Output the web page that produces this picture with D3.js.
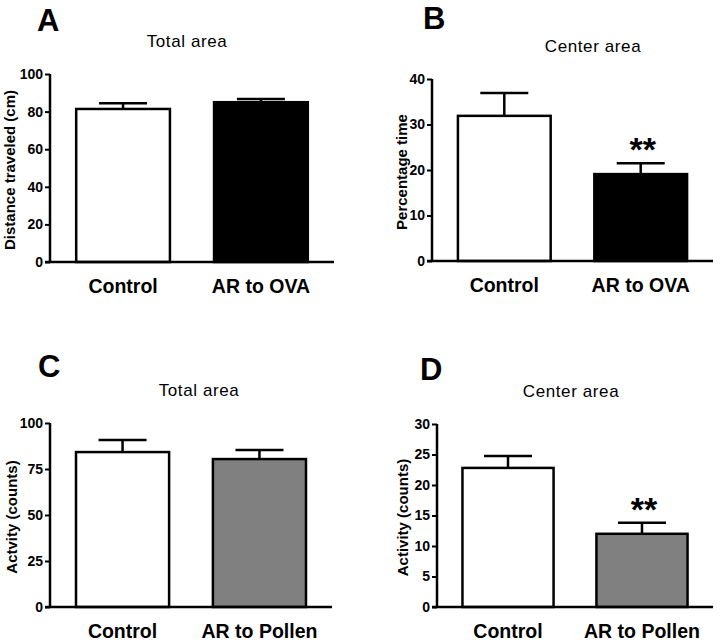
<!DOCTYPE html>
<html>
<head>
<meta charset="utf-8">
<script src="https://cdn.jsdelivr.net/npm/d3@7"></script>
<style>
  body { margin: 0; background: #fff; }
  text { font-family: "Liberation Sans", Arial, sans-serif; fill: #000; }
  .tick text { font-family: "Liberation Sans Narrow", "Liberation Sans", Arial, sans-serif; font-weight: bold; font-size: 14px; }
</style>
</head>
<body>
<div id="graph"></div>
<script>
// data
const groupsOVA = ['Control', 'AR to OVA'];
const groupsPollen = ['Control', 'AR to Pollen'];

const distanceMean = [81.4, 85.0];
const distanceErr = [3.1, 1.7];
const centerTimeMean = [31.9, 19.1];
const centerTimeErr = [5.0, 2.4];
const activityMean = [84.2, 80.4];
const activityErr = [6.6, 4.9];
const centerActivityMean = [22.8, 12.0];
const centerActivityErr = [1.95, 1.8];

const ticksA = [0, 20, 40, 60, 80, 100];
const ticksB = [0, 10, 20, 30, 40];
const ticksC = [0, 25, 50, 75, 100];
const ticksD = [0, 5, 10, 15, 20, 25, 30];

const svg = d3.select('#graph')
  .append('svg')
  .attr('width', 720)
  .attr('height', 644);

const panels = [
  { letter: 'A', lx: 37, ly: 31, title: 'Total area', tx: 187, ty: 47, ylabel: 'Distance traveled (cm)', yl: 10,
    box: { left: 50, top: 74, right: 334, bottom: 262 }, cats: groupsOVA, mean: distanceMean, err: distanceErr,
    ticks: ticksA, fills: ['#fff', '#000'], stars: null },
  { letter: 'B', lx: 423, ly: 29, title: 'Center area', tx: 593, ty: 52, ylabel: 'Percentage time', yl: 402,
    box: { left: 432, top: 79, right: 713, bottom: 261 }, cats: groupsOVA, mean: centerTimeMean, err: centerTimeErr,
    ticks: ticksB, fills: ['#fff', '#000'], stars: 1 },
  { letter: 'C', lx: 38, ly: 377, title: 'Total area', tx: 199, ty: 396, ylabel: 'Actvity (counts)', yl: 12,
    box: { left: 50, top: 423, right: 332, bottom: 607 }, cats: groupsPollen, mean: activityMean, err: activityErr,
    ticks: ticksC, fills: ['#fff', '#808080'], stars: null },
  { letter: 'D', lx: 420, ly: 380, title: 'Center area', tx: 571, ty: 397, ylabel: 'Activity (counts)', yl: 403,
    box: { left: 437, top: 424, right: 713, bottom: 607 }, cats: groupsPollen, mean: centerActivityMean, err: centerActivityErr,
    ticks: ticksD, fills: ['#fff', '#808080'], stars: 1 }
];

panels.forEach(p => {
  const b = p.box;
  const g = svg.append('g');

  const x = d3.scaleBand()
    .domain(p.cats)
    .range([b.left, b.right])
    .paddingInner(0.32)
    .paddingOuter(0.19);

  const y = d3.scaleLinear()
    .domain([0, d3.max(p.ticks)])
    .range([b.bottom, b.top]);

  // panel letter and title
  g.append('text')
    .attr('x', p.lx).attr('y', p.ly)
    .attr('font-size', 31).attr('font-weight', 'bold')
    .text(p.letter);

  g.append('text')
    .attr('x', p.tx).attr('y', p.ty)
    .attr('text-anchor', 'middle')
    .attr('font-size', 17).attr('letter-spacing', 0.6)
    .text(p.title);

  // y label
  g.append('text')
    .attr('transform', `translate(${p.yl + 5}, ${(b.top + b.bottom) / 2 + 2}) rotate(-90)`)
    .attr('text-anchor', 'middle')
    .attr('font-size', 15).attr('font-weight', 'bold')
    .text(p.ylabel);

  // bars
  g.selectAll('.bar')
    .data(p.cats)
    .join('rect')
    .attr('class', 'bar')
    .attr('x', d => x(d))
    .attr('y', (d, i) => y(p.mean[i]))
    .attr('width', x.bandwidth())
    .attr('height', (d, i) => b.bottom - y(p.mean[i]))
    .attr('fill', (d, i) => p.fills[i])
    .attr('stroke', '#000')
    .attr('stroke-width', 2.5);

  // error bars (upper only)
  p.cats.forEach((c, i) => {
    const cx = x(c) + x.bandwidth() / 2;
    const top = y(p.mean[i] + p.err[i]);
    g.append('line')
      .attr('x1', cx).attr('x2', cx)
      .attr('y1', y(p.mean[i])).attr('y2', top)
      .attr('stroke', '#000').attr('stroke-width', 2.5);
    g.append('line')
      .attr('x1', cx - 24).attr('x2', cx + 24)
      .attr('y1', top).attr('y2', top)
      .attr('stroke', '#000').attr('stroke-width', 2.5);
  });

  if (p.stars) {
    const c = p.cats[p.stars];
    g.append('text')
      .attr('x', x(c) + x.bandwidth() / 2 + 2)
      .attr('y', y(p.mean[p.stars] + p.err[p.stars]) - 2)
      .attr('text-anchor', 'middle')
      .attr('font-size', 34).attr('font-weight', 'bold')
      .text('**');
  }

  // axes
  const yAxis = g.append('g')
    .attr('transform', `translate(${b.left}, 0)`)
    .call(d3.axisLeft(y).tickValues(p.ticks).tickSize(5).tickPadding(2));
  yAxis.select('.domain').attr('stroke-width', 2.5).attr('d', `M0,${b.bottom}V${b.top}`);
  yAxis.selectAll('.tick line').attr('stroke-width', 2);

  g.append('line')
    .attr('x1', b.left - 5).attr('x2', b.right)
    .attr('y1', b.bottom).attr('y2', b.bottom)
    .attr('stroke', '#000').attr('stroke-width', 2.5);

  // category labels
  g.selectAll('.cat')
    .data(p.cats)
    .join('text')
    .attr('class', 'cat')
    .attr('x', d => x(d) + x.bandwidth() / 2)
    .attr('y', b.bottom + 31)
    .attr('text-anchor', 'middle')
    .attr('font-size', 19.5).attr('font-weight', 'bold')
    .text(d => d);
});
</script>
</body>
</html>
